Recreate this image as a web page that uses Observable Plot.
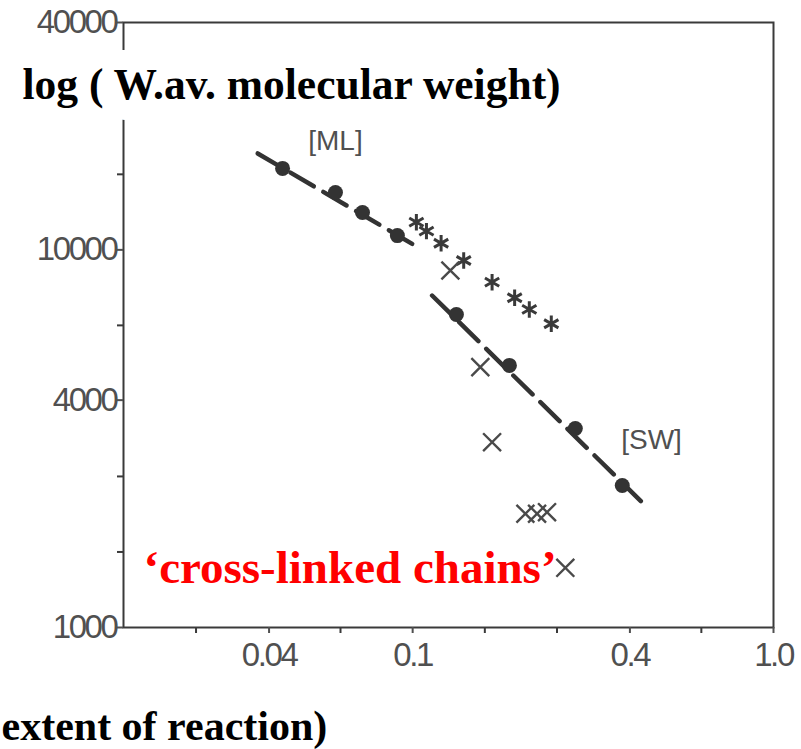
<!DOCTYPE html>
<html>
<head>
<meta charset="utf-8">
<script src="https://cdn.jsdelivr.net/npm/d3@7"></script>
<script src="https://cdn.jsdelivr.net/npm/@observablehq/plot@0.6"></script>
<style>
  html, body { margin: 0; padding: 0; background: white; }
  g[aria-label$="tick label"] text { letter-spacing: -2.4px; }
</style>
</head>
<body>
<div id="chart"></div>
<script>
// ---- data ----
const circleX = [0.0436, 0.0611, 0.0726, 0.0907, 0.1322, 0.1854, 0.2823, 0.381];
const circleY = [16430, 14190, 12560, 10910, 6745, 4943, 3366, 2377];

const starX = [0.1024, 0.1092, 0.1199, 0.1385, 0.1660, 0.1917, 0.2105, 0.2422];
const starY = [11840, 11210, 10410, 9374, 8212, 7466, 6955, 6372];

const crossX = [0.1272, 0.1540, 0.1660, 0.2053, 0.2212, 0.2357, 0.2649];
const crossY = [8818, 4892, 3095, 2001, 2001, 2020, 1439];

const lineMLx = [0.0372, 0.1051];
const lineMLy = [18000, 10070];
const lineSWx = [0.1132, 0.4460];
const lineSWy = [7570, 2083];

const xTicks = [0.04, 0.1, 0.4, 1.0];
const xTickText = ["0.04", "0.1", "0.4", "1.0"];
const xMinorTicks = [0.0251, 0.0631, 0.1585, 0.2512, 0.631];
const yTicks = [1000, 4000, 10000, 40000];
const yTickText = ["1000", "4000", "10000", "40000"];
const yMinorTicks = [1585, 2512, 6310, 15849, 25119];

const labelML = "[ML]";
const labelSW = "[SW]";
const titleText = "log ( W.av. molecular weight)";
const xTitleText = "extent of reaction)";
const noteText = "\u2018cross-linked chains\u2019";

// ---- tables ----
const circles = circleX.map((x, i) => ({x, y: circleY[i]}));
const stars = starX.map((x, i) => ({x, y: starY[i]}));
const crosses = crossX.map((x, i) => ({x, y: crossY[i]}));
const mlLine = lineMLx.map((x, i) => ({x, y: lineMLy[i]}));
const swLine = lineSWx.map((x, i) => ({x, y: lineSWy[i]}));

const tickFont = "'Liberation Sans', Arial, sans-serif";
const serif = "'Liberation Serif', 'Times New Roman', serif";
const ink = "#3a3a3a";

const chart = Plot.plot({
  width: 801,
  height: 749,
  marginLeft: 123,
  marginRight: 28,
  marginTop: 22,
  marginBottom: 122,
  x: {type: "log", domain: [0.0158, 1]},
  y: {type: "log", domain: [1000, 40000]},
  style: {background: "white", overflow: "visible", fontFamily: tickFont, fontSize: "33px"},
  marks: [
    Plot.frame({stroke: ink, strokeWidth: 2}),
    Plot.axisX(xMinorTicks, {tickSize: 6, tickFormat: () => "", color: ink, strokeWidth: 2, label: null}),
    Plot.axisX(xTicks, {tickSize: 6, tickPadding: 9, tickFormat: d => xTickText[xTicks.indexOf(d)],
      color: "#505050", strokeWidth: 2, label: null, fontSize: 33, fontFamily: tickFont}),
    Plot.axisY(yMinorTicks, {tickSize: 6, tickFormat: () => "", color: ink, strokeWidth: 2, label: null}),
    Plot.axisY(yTicks, {tickSize: 6, tickPadding: 1, tickFormat: d => yTickText[yTicks.indexOf(d)],
      color: "#505050", strokeWidth: 2, label: null, fontSize: 33, fontFamily: tickFont}),

    Plot.line(mlLine, {x: "x", y: "y", stroke: "#333", strokeWidth: 4.5, strokeDasharray: "27,11"}),
    Plot.line(swLine, {x: "x", y: "y", stroke: "#333", strokeWidth: 4.5, strokeDasharray: "27,11"}),
    Plot.dot(circles, {x: "x", y: "y", r: 7.5, fill: "#333", stroke: null}),
    Plot.dot(stars, {x: "x", y: "y", symbol: "asterisk", r: 7.8, stroke: "#3a3a3a", strokeWidth: 3}),
    Plot.dot(crosses, {x: "x", y: "y", symbol: "times", r: 8.2, stroke: "#4a4a4a", strokeWidth: 2.4}),

    Plot.text([labelML], {text: d => d, frameAnchor: "top-left", dx: 212, dy: 119, lineAnchor: "middle",
      textAnchor: "middle", fontSize: 28, fontFamily: "'Liberation Sans', sans-serif", fill: "#505050"}),
    Plot.text([labelSW], {text: d => d, frameAnchor: "top-left", dx: 528, dy: 418, lineAnchor: "middle",
      textAnchor: "middle", fontSize: 28, fontFamily: "'Liberation Sans', sans-serif", fill: "#505050"}),

    Plot.text([titleText], {text: d => d, frameAnchor: "top-left", dx: -101, dy: 76, lineAnchor: "bottom",
      textAnchor: "start", fontSize: 43.5, fontWeight: "bold", fontFamily: serif, fill: "black",
      stroke: "white", strokeWidth: 40, strokeLinejoin: "round"}),
    Plot.text([noteText], {text: d => d, frameAnchor: "top-left", dx: 20, dy: 560, lineAnchor: "bottom",
      textAnchor: "start", fontSize: 47, fontWeight: "bold", fontFamily: serif, fill: "#ff0000"}),
    Plot.text([xTitleText], {text: d => d, frameAnchor: "bottom-left", dx: -122, dy: 112, lineAnchor: "bottom",
      textAnchor: "start", fontSize: 42, fontWeight: "bold", fontFamily: serif, fill: "black"})
  ]
});
document.getElementById("chart").appendChild(chart);
</script>
</body>
</html>
